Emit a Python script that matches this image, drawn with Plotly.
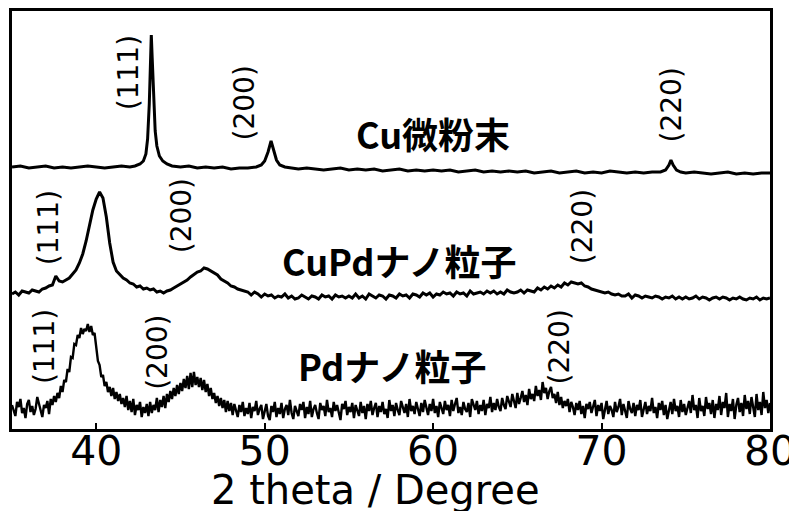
import numpy as np
import plotly.graph_objects as go

# ---------------- data (intensity in arbitrary, offset-stacked units) ----------------
# Cu fine powder (sharp peaks) - explicit 2theta / intensity pairs
cu_two_theta = [35.0, 35.5, 36.0, 36.5, 37.0, 37.5, 38.0, 38.5, 39.0, 39.5, 40.0, 40.5, 41.0, 41.5, 42.0,
                42.3, 42.6, 42.8, 42.95, 43.05, 43.15, 43.22, 43.27, 43.32, 43.4, 43.5, 43.6, 43.75, 43.95,
                44.2, 44.5, 45.0, 45.5, 46.0, 46.5, 47.0, 47.5, 48.0, 48.5, 49.0, 49.5, 49.8, 50.0, 50.2,
                50.38, 50.55, 50.7, 50.9, 51.2, 51.6, 52.0, 52.5, 53.0, 53.5, 54.0, 54.5, 55.0, 55.5, 56.0,
                56.5, 57.0, 57.5, 58.0, 58.5, 59.0, 59.5, 60.0, 60.5, 61.0, 61.5, 62.0, 62.5, 63.0, 63.5,
                64.0, 64.5, 65.0, 65.5, 66.0, 66.5, 67.0, 67.5, 68.0, 68.5, 69.0, 69.5, 70.0, 70.5, 71.0,
                71.5, 72.0, 72.5, 73.0, 73.5, 73.8, 74.0, 74.12, 74.25, 74.45, 74.7, 75.0, 75.5, 76.0,
                76.5, 77.0, 77.5, 78.0, 78.5, 79.0, 79.5, 80.0]
cu_intensity = [262, 263, 261, 262, 263, 261, 262, 261, 262, 263, 262, 261, 262, 263, 262,
                263, 265, 268, 275, 290, 325, 370, 394, 372, 330, 298, 283, 273, 268,
                265, 263, 262, 263, 261, 262, 261, 262, 260, 261, 261, 262, 264, 268, 277,
                288, 279, 269, 264, 262, 261, 260, 261, 260, 259, 260, 261, 259, 260, 259,
                260, 258, 259, 260, 258, 259, 258, 259, 258, 259, 257, 258, 259, 257, 258,
                257, 258, 257, 258, 256, 257, 258, 256, 257, 258, 256, 257, 256, 258, 257,
                256, 257, 256, 257, 257, 259, 264, 269, 264, 259, 257, 256, 257, 256,
                255, 256, 257, 255, 256, 255, 256, 256]

# 2theta sampling grids for the nanoparticle scans
cupd_two_theta = np.round(np.arange(35.0, 80.0001, 0.2), 1)
pd_two_theta = np.round(np.arange(35.0, 80.0001, 0.1), 1)

cupd_intensity = [
    135, 137, 134, 138, 137, 136, 139, 138, 137, 140,   # 35.0-36.8
    141, 143, 144, 153, 148, 147, 149, 151, 155, 159,   # 37.0-38.8
    166, 175, 188, 203, 219, 230, 237, 231, 212, 186,   # 39.0-40.8
    167, 158, 154, 151, 149, 146, 145, 142, 143, 140,   # 41.0-42.8
    141, 139, 140, 137, 138, 136, 138, 139, 141, 143,   # 43.0-44.8
    145, 147, 149, 152, 155, 157, 158, 161, 160, 158,   # 45.0-46.8
    156, 154, 150, 148, 146, 143, 142, 140, 139, 138,   # 47.0-48.8
    137, 134, 137, 135, 132, 135, 133, 134, 131, 133,   # 49.0-50.8
    132, 135, 131, 133, 130, 131, 134, 132, 130, 133,   # 51.0-52.8
    132, 130, 134, 132, 133, 130, 134, 132, 133, 131,   # 53.0-54.8
    133, 131, 135, 131, 133, 130, 135, 133, 131, 134,   # 55.0-56.8
    133, 130, 134, 133, 131, 135, 133, 134, 131, 135,   # 57.0-58.8
    134, 132, 136, 134, 136, 132, 135, 134, 137, 135,   # 59.0-60.8
    136, 133, 137, 135, 136, 133, 138, 135, 136, 137,   # 61.0-62.8
    135, 138, 136, 138, 135, 137, 135, 139, 137, 136,   # 63.0-64.8
    137, 139, 136, 139, 138, 137, 141, 139, 142, 140,   # 65.0-66.8
    143, 141, 144, 142, 146, 144, 147, 146, 145, 146,   # 67.0-68.8
    143, 142, 140, 139, 138, 137, 136, 137, 135, 134,   # 69.0-70.8
    135, 133, 133, 135, 131, 134, 133, 131, 133, 132,   # 71.0-72.8
    131, 133, 132, 130, 132, 131, 133, 130, 132, 130,   # 73.0-74.8
    132, 130, 131, 133, 130, 132, 131, 129, 131, 132,   # 75.0-76.8
    130, 132, 131, 129, 131, 130, 132, 130, 129, 131,   # 77.0-78.8
    130, 132, 129, 131, 130, 131,                       # 79.0-80.0
]

pd_intensity = [
    24, 19, 13, 27, 22, 30, 16, 21, 11, 25,      # 35.0-35.9
    29, 17, 23, 14, 20, 32, 26, 18, 12, 24,      # 36
    21, 28, 15, 30, 24, 33, 27, 36, 31, 43,      # 37
    37, 49, 47, 60, 57, 72, 71, 85, 84, 94,      # 38
    91, 101, 95, 100, 98, 105, 97, 103, 94, 96,  # 39
    84, 68, 64, 52, 54, 43, 47, 37, 42, 33,      # 40
    41, 30, 37, 28, 35, 25, 31, 22, 33, 19,      # 41
    28, 17, 30, 14, 24, 19, 27, 12, 22, 16,      # 42
    25, 13, 27, 16, 24, 19, 31, 17, 29, 22,      # 43
    33, 21, 35, 27, 38, 30, 41, 33, 44, 35,      # 44
    46, 38, 50, 41, 53, 40, 56, 42, 57, 44,      # 45
    52, 42, 51, 39, 49, 37, 45, 33, 41, 30,      # 46
    36, 26, 33, 23, 31, 21, 29, 17, 28, 18,      # 47
    26, 14, 25, 19, 12, 24, 17, 27, 13, 21,      # 48
    15, 26, 11, 22, 18, 28, 14, 20, 24, 10,      # 49
    19, 25, 13, 9, 23, 17, 27, 12, 21, 15,       # 50
    26, 11, 20, 24, 14, 29, 16, 10, 23, 18,      # 51
    13, 25, 19, 27, 11, 22, 15, 28, 12, 20,      # 52
    24, 16, 10, 26, 19, 23, 13, 29, 17, 21,      # 53
    12, 27, 18, 24, 15, 9, 25, 20, 28, 14,       # 54
    22, 17, 26, 11, 24, 19, 13, 27, 16, 23,      # 55
    10, 25, 18, 28, 14, 21, 26, 12, 23, 17,      # 56
    27, 15, 20, 11, 29, 18, 24, 13, 26, 19,      # 57
    14, 28, 21, 16, 25, 12, 30, 18, 23, 15,      # 58
    27, 20, 13, 26, 17, 29, 22, 14, 25, 18,      # 59
    30, 16, 23, 12, 27, 21, 15, 28, 19, 24,      # 60
    13, 29, 18, 25, 31, 16, 22, 14, 27, 20,      # 61
    17, 26, 12, 30, 23, 19, 28, 15, 24, 18,      # 62
    29, 14, 25, 21, 32, 17, 26, 19, 30, 22,      # 63
    18, 31, 24, 20, 33, 26, 22, 35, 27, 21,      # 64
    36, 25, 31, 38, 27, 34, 24, 40, 30, 35,      # 65
    28, 43, 33, 39, 29, 47, 36, 41, 30, 38,      # 66
    42, 31, 35, 26, 37, 24, 32, 21, 28, 23,      # 67
    30, 17, 27, 22, 14, 26, 19, 28, 15, 23,      # 68
    11, 25, 20, 27, 16, 22, 29, 13, 24, 18,      # 69
    26, 10, 21, 28, 15, 23, 19, 12, 27, 17,      # 70
    22, 30, 14, 25, 18, 11, 28, 20, 16, 26,      # 71
    13, 24, 19, 29, 12, 21, 27, 15, 23, 18,      # 72
    31, 16, 22, 11, 26, 19, 28, 14, 24, 10,      # 73
    20, 27, 15, 30, 18, 23, 12, 29, 17, 25,      # 74
    14, 22, 28, 16, 34, 19, 24, 11, 31, 18,      # 75
    23, 13, 32, 20, 26, 15, 29, 11, 25, 19,      # 76
    33, 14, 27, 21, 36, 12, 25, 18, 30, 10,      # 77
    24, 31, 17, 26, 13, 34, 20, 28, 15, 32,      # 78
    22, 12, 35, 19, 27, 14, 37, 21, 29, 16,      # 79
    26,                                          # 80.0
]

sample_names = ["Cu微粉末", "CuPdナノ粒子", "Pdナノ粒子"]
sample_label_pos = [(60.0, 296), (58.0, 169), (57.6, 64)]

peak_labels = ["(111)", "(200)", "(220)"]
cu_peak_label_pos = [(41.9, 356), (48.8, 326), (74.15, 324)]
cupd_peak_label_pos = [(37.15, 201), (45.05, 213), (68.85, 202)]
pd_peak_label_pos = [(36.9, 82), (43.6, 77), (67.5, 82)]

x_ticks = [40, 50, 60, 70, 80]
x_title = "2 theta / Degree"

# ---------------- figure ----------------
fig = go.Figure()
fig.add_trace(go.Scatter(x=cu_two_theta, y=cu_intensity, mode="lines",
                         line=dict(color="black", width=3), name=sample_names[0]))
fig.add_trace(go.Scatter(x=cupd_two_theta, y=cupd_intensity, mode="lines",
                         line=dict(color="black", width=3), name=sample_names[1]))
fig.add_trace(go.Scatter(x=pd_two_theta, y=pd_intensity, mode="lines",
                         line=dict(color="black", width=2.4), name=sample_names[2]))

annotations = []
for name, (ax, ay) in zip(sample_names, sample_label_pos):
    annotations.append(dict(x=ax, y=ay, xref="x", yref="y", text=name, showarrow=False,
                            font=dict(family="Noto Sans CJK JP", size=36, color="black", weight="bold"),
                            xanchor="center", yanchor="middle"))
for pos_list in (cu_peak_label_pos, cupd_peak_label_pos, pd_peak_label_pos):
    for lab, (ax, ay) in zip(peak_labels, pos_list):
        annotations.append(dict(x=ax, y=ay, xref="x", yref="y", text=lab, showarrow=False,
                                textangle=-90,
                                font=dict(family="DejaVu Sans", size=28, color="black"),
                                xanchor="center", yanchor="middle"))
# axis title (placed as paper-referenced text just below the tick labels)
annotations.append(dict(x=0.48, y=-0.145, xref="paper", yref="paper", text=x_title,
                        showarrow=False, xanchor="center", yanchor="middle",
                        font=dict(family="DejaVu Sans", size=40, color="black")))

# the page body adds an 8px offset, margins compensate for it
fig.update_layout(
    width=797, height=511,
    margin=dict(l=4, r=35, t=3, b=90),
    paper_bgcolor="white", plot_bgcolor="white",
    showlegend=False,
    annotations=annotations,
)
fig.update_xaxes(
    range=[35, 80], tickvals=x_ticks, ticktext=[str(t) for t in x_ticks],
    ticks="inside", ticklen=6, tickwidth=2, tickcolor="black",
    ticklabelstandoff=-16,
    showline=True, linewidth=3, linecolor="black", mirror=True,
    showgrid=False, zeroline=False, automargin=False,
    tickfont=dict(family="DejaVu Sans", size=41, color="black"),
)
fig.update_yaxes(
    range=[0, 418], showticklabels=False, ticks="",
    showline=True, linewidth=3, linecolor="black", mirror=True,
    showgrid=False, zeroline=False, automargin=False,
)

fig.write_html("out.html")
